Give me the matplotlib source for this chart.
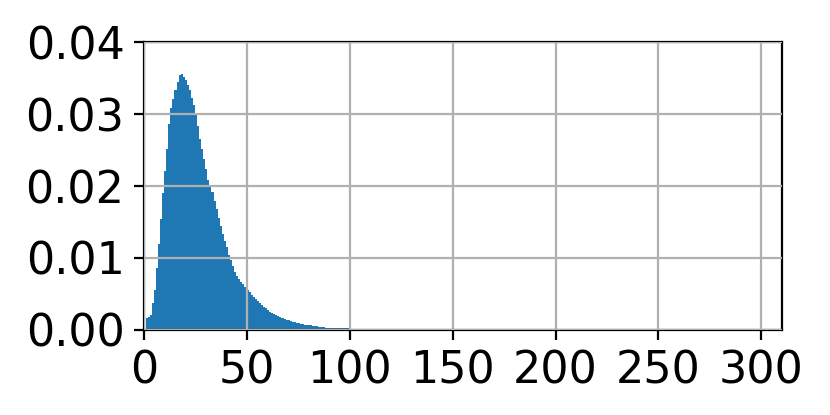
import numpy as np
import matplotlib
matplotlib.use("Agg")
import matplotlib.pyplot as plt

# density per bin (width 1)
density = [
    0.0017, 0.0018, 0.0021, 0.0037, 0.0055, 0.0086, 0.0119, 0.0154, 0.0190, 0.0221,
    0.0252, 0.0287, 0.0308, 0.0321, 0.0333, 0.0345, 0.0355, 0.0356, 0.0352, 0.0348,
    0.0341, 0.0333, 0.0323, 0.0313, 0.0299, 0.0283, 0.0266, 0.0252, 0.0237, 0.0223,
    0.0209, 0.0200, 0.0191, 0.0179, 0.0168, 0.0156, 0.0145, 0.0133, 0.0124, 0.0115,
    0.0104, 0.0097, 0.0089, 0.0080, 0.0075, 0.0071, 0.0067, 0.0063, 0.0059, 0.0055,
    0.0052, 0.0049, 0.0046, 0.0043, 0.0040, 0.0037, 0.0035, 0.0032, 0.0030, 0.0027,
    0.0025, 0.0023, 0.0022, 0.0020, 0.0019, 0.0018, 0.0017, 0.0015, 0.0014, 0.0013,
    0.0012, 0.0011, 0.0011, 0.0010, 0.0009, 0.0008, 0.0008, 0.0007, 0.0007, 0.0006,
    0.0006, 0.0005, 0.0005, 0.0005, 0.0004, 0.0004, 0.0004, 0.0003, 0.0003, 0.0003,
    0.0003, 0.0002, 0.0002, 0.0002, 0.0002, 0.0002, 0.0002, 0.0002, 0.0002, 0.0001,
    0.0001, 0.0001, 0.0001, 0.0001, 0.0001, 0.00005, 0.00005, 0.00005, 0.00005, 0.00005,
]
first_edge = 0.8
bin_edges = first_edge + np.arange(len(density) + 1)

x_ticks = [0, 50, 100, 150, 200, 250, 300]
y_ticks = [0.00, 0.01, 0.02, 0.03, 0.04]

plt.rcParams["font.size"] = 16

fig = plt.figure(figsize=(4.15, 2.075), dpi=200)
ax = fig.add_axes([0.1735, 0.2055, 0.942 - 0.1735, 0.898 - 0.2055])

ax.hist(bin_edges[:-1], bins=bin_edges, weights=density, color="#1f77b4")
ax.set_xlim(0, 310)
ax.set_ylim(0, 0.04)
ax.set_xticks(x_ticks)
ax.set_yticks(y_ticks)
ax.set_yticklabels([f"{v:.2f}" for v in y_ticks])
ax.grid(True)
ax.set_axisbelow(False)

fig.savefig("out.png", dpi=200)
